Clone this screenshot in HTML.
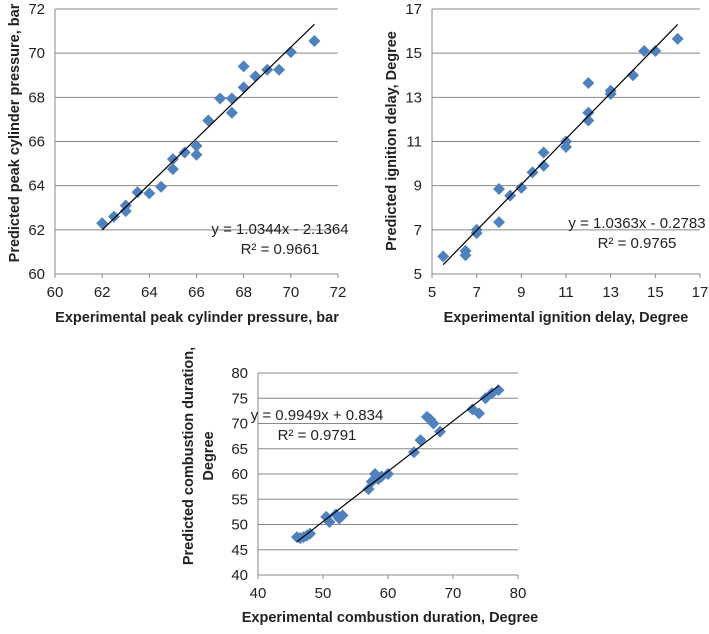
<!DOCTYPE html>
<html><head><meta charset="utf-8"><style>
body{margin:0;background:#fff;width:709px;height:629px;overflow:hidden}
svg{font-family:"Liberation Sans",Arial,sans-serif}
</style></head><body>
<svg id="s" width="709" height="629"></svg>
<script>
const c1x=[62,62.5,63,63,63.5,64,64.5,65,65,65.5,66,66,66.5,67,67.5,67.5,68,68,68.5,69,69.5,70,71];
const c1y=[62.3,62.6,63.1,62.85,63.7,63.65,63.95,65.2,64.75,65.5,65.8,65.4,66.95,67.95,67.95,67.3,69.4,68.45,68.95,69.25,69.25,70.05,70.55];
const c2x=[5.5,6.5,6.5,7,7,8,8,8.5,9,9.5,10,10,11,11,12,12,12,13,13,14,14.5,15,16];
const c2y=[5.8,6.05,5.85,7.0,6.85,8.85,7.35,8.55,8.9,9.6,10.5,9.9,11.0,10.75,13.65,12.3,11.95,13.3,13.15,14.0,15.1,15.1,15.65];
const c3x=[46,46.5,47,47.5,48,50.5,51,52,52.5,53,57,57.5,58,58.5,59,60,64,65,66,66.5,67,68,73,74,75,76,77];
const c3y=[47.5,47.3,47.5,47.8,48.2,51.5,50.5,52,51.2,51.8,57,58.5,60,59,59.5,60,64.3,66.7,71.3,70.8,70,68.4,72.8,72,75,76,76.6];
const c1ticksX=[60,62,64,66,68,70,72], c1ticksY=[60,62,64,66,68,70,72];
const c2ticksX=[5,7,9,11,13,15,17], c2ticksY=[5,7,9,11,13,15,17];
const c3ticksX=[40,50,60,70,80], c3ticksY=[40,45,50,55,60,65,70,75,80];
const S=document.getElementById('s'),NS='http://www.w3.org/2000/svg';
function el(t,a,p,txt){const e=document.createElementNS(NS,t);for(const k in a)e.setAttribute(k,a[k]);if(txt!==undefined)e.textContent=txt;(p||S).appendChild(e);return e;}
function chart(cfg){
 const g=el('g',{});
 
 
 const [x0,x1,y0,y1]=cfg.box,tx=cfg.tx,ty=cfg.ty;
 const X=v=>x0+(v-tx[0])/(tx[tx.length-1]-tx[0])*(x1-x0);
 const Y=v=>y1-(v-ty[0])/(ty[ty.length-1]-ty[0])*(y1-y0);
 ty.forEach(v=>{
  if(v!==ty[0]){const l=el('line',{x1:x0,x2:x1,y1:Y(v),y2:Y(v),stroke:'#888','stroke-width':1},g);}
  const t=el('text',{x:x0-10,y:Y(v)+5,'text-anchor':'end','font-size':15,fill:'#222'},g,v);
  
 });
 tx.forEach(v=>{
  el('line',{x1:X(v),x2:X(v),y1:y1,y2:y1+4,stroke:'#888'},g);
  const t=el('text',{x:X(v),y:y1+23,'text-anchor':'middle','font-size':15,fill:'#222'},g,v);
  
 });
 const ax=el('line',{x1:x0,x2:x0,y1:y0,y2:y1,stroke:'#888'},g);
 const bx=el('line',{x1:x0,x2:x1,y1:y1,y2:y1,stroke:'#888'},g);
 cfg.xs.forEach((v,i)=>{
  const cx=X(v),cy=Y(cfg.ys[i]),r=6;
  const p=el('polygon',{points:`${cx},${cy-r} ${cx+r},${cy} ${cx},${cy+r} ${cx-r},${cy}`,fill:'#4f81bd'},g);
  
 });
 const [a,b]=cfg.fit,[fa,fb]=cfg.fr;
 const tl=el('line',{x1:X(fa),y1:Y(a*fa+b),x2:X(fb),y2:Y(a*fb+b),stroke:'#000','stroke-width':1.2},g);
 
 const e1=el('text',{x:cfg.eq[0],y:cfg.eq[1],'text-anchor':'middle','font-size':15,fill:'#222'},g,cfg.eqt);
 
 const e2=el('text',{x:cfg.eq[0],y:cfg.eq[1]+20,'text-anchor':'middle','font-size':15,fill:'#222'},g,cfg.r2);
 
 const xt=el('text',{x:cfg.xt[0],y:cfg.xt[1],'text-anchor':'middle','font-size':14.5,'font-weight':'bold',fill:'#222'},g,cfg.xl);
 
 cfg.yl.forEach((s,i)=>{
  const yx=cfg.yt[0]+i*20,yy=cfg.yt[1];
  const t=el('text',{x:yx,y:yy,'text-anchor':'middle','font-size':14.5,'font-weight':'bold',fill:'#222',transform:`rotate(-90 ${yx} ${yy})`},g,s);
  
 });
}
chart({name:'peak-pressure-chart',box:[55,338,9,274],tx:c1ticksX,ty:c1ticksY,xs:c1x,ys:c1y,fit:[1.0344,-2.1364],fr:[62,71],eq:[280,234],eqt:'y = 1.0344x - 2.1364',r2:'R² = 0.9661',xt:[197,322],xl:'Experimental peak cylinder pressure, bar',yt:[19,133],yl:['Predicted peak cylinder pressure, bar']});
chart({name:'ignition-delay-chart',box:[432,700,9,274],tx:c2ticksX,ty:c2ticksY,xs:c2x,ys:c2y,fit:[1.0363,-0.2783],fr:[5.5,16],eq:[637,228],eqt:'y = 1.0363x - 0.2783',r2:'R² = 0.9765',xt:[566,322],xl:'Experimental ignition delay, Degree',yt:[396,141],yl:['Predicted ignition delay, Degree']});
chart({name:'combustion-duration-chart',box:[258,518,373,575],tx:c3ticksX,ty:c3ticksY,xs:c3x,ys:c3y,fit:[0.9949,0.834],fr:[46,77],eq:[317,420],eqt:'y = 0.9949x + 0.834',r2:'R² = 0.9791',xt:[390,622],xl:'Experimental combustion duration, Degree',yt:[193,456],yl:['Predicted combustion duration,','Degree']});
</script>
</body></html>
